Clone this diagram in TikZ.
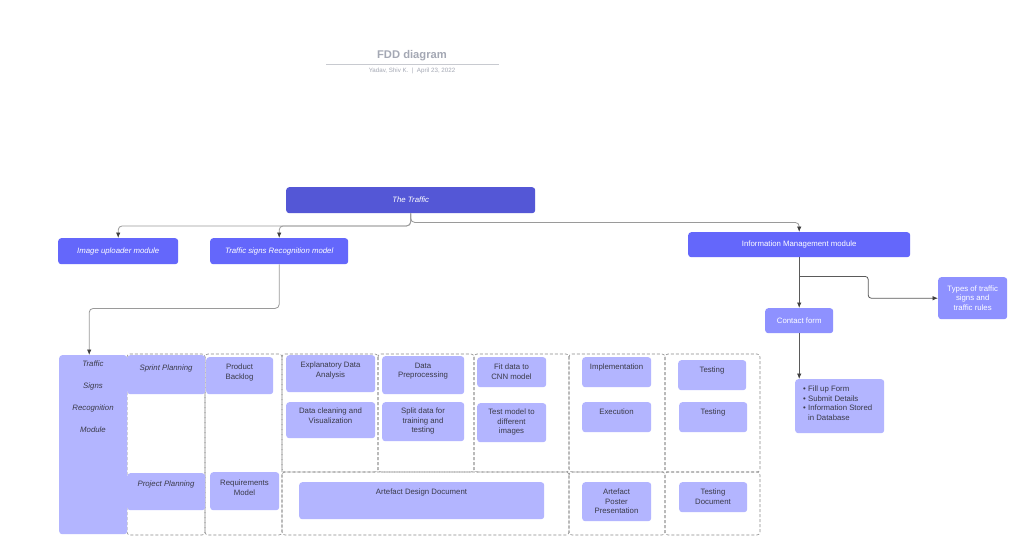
\documentclass[tikz,border=0pt]{standalone}
\usepackage{fontspec}
\setmainfont{Liberation Sans}
\usetikzlibrary{arrows.meta}
\definecolor{cdark}{HTML}{5457D6}
\definecolor{cmid}{HTML}{6467FB}
\definecolor{clight}{HTML}{8E91FF}
\definecolor{cpale}{HTML}{B3B5FF}
\definecolor{ctxt}{HTML}{3A3A48}
\definecolor{ctitle}{HTML}{A4A8B4}
\definecolor{ctline}{HTML}{C8CAD0}
\definecolor{cline}{HTML}{9A9A9A}
\definecolor{cline2}{HTML}{5A5A5A}
\definecolor{cdash}{HTML}{8A8A8A}
\tikzset{
  mainbox/.style={rounded corners=3pt, draw=none, text=white, font=\fontsize{7.8}{9.5}\selectfont, align=center, inner sep=0pt},
  gridbox/.style={rounded corners=3pt, draw=none, fill=cpale, inner sep=0pt},
  gtxt/.style={text=ctxt, font=\fontsize{7.8}{9.5}\selectfont, align=center, inner sep=0pt},
  conn/.style={draw=cline, line width=0.8pt, rounded corners=4pt, -{Latex[length=5.5pt,width=4.5pt,color=black!75]}},
  conntwo/.style={draw=cline2, line width=0.8pt, rounded corners=3pt, -{Latex[length=5.5pt,width=4.5pt,color=black!75]}},
  gridline/.style={draw=cdash, line width=0.6pt, dash pattern=on 3pt off 2pt, rounded corners=3pt},
}
\newcommand\mainbx[7]{\node[mainbox,fill=#6,minimum width={#4-#2},minimum height={#5-#3},anchor=north west] (#1) at (#2,#3) {#7};}
\newcommand\gbx[8]{%
  \node[gridbox,minimum width={#4-#2},minimum height={#5-#3},anchor=north west] (#1) at (#2,#3) {};
  \node[gtxt,#8,anchor=north] (#1t) at ({(#2+#4)/2},{#6-3.3}) {#7};}
\begin{document}
\begin{tikzpicture}[x=1pt,y=-1pt]
\useasboundingbox (0,0) rectangle (1024,552);
\fill[white] (0,0) rectangle (1024,552);

% title
\node[text=ctitle, font=\bfseries\fontsize{11.2}{12}\selectfont, inner sep=0pt] (title) at (412,56) {FDD diagram};
\draw[ctline, line width=1pt] (326,64) -- (499,64);
\node[text=ctitle, font=\fontsize{6.2}{7}\selectfont, inner sep=0pt] (subtitle) at (412,71) {Yadav, Shiv K.~~|~~April 23, 2022};

% dashed grid
\draw[gridline] (127,354) rectangle (205,535);
\draw[gridline] (205,354) rectangle (282,535);
\draw[gridline] (282,354) rectangle (378,472);
\draw[gridline] (378,354) rectangle (474,472);
\draw[gridline] (474,354) rectangle (569,472);
\draw[gridline] (569,354) rectangle (665,472);
\draw[gridline] (665,354) rectangle (760,472);
\draw[gridline] (282,472) rectangle (569,535);
\draw[gridline] (569,472) rectangle (665,535);
\draw[gridline] (665,472) rectangle (760,535);

% main boxes
\mainbx{tt}{286}{187}{535}{213}{cdark}{\itshape The Traffic}
\mainbx{img}{58}{238}{178}{264}{cmid}{\itshape Image uploader module}
\mainbx{tsr}{210}{238}{348}{264}{cmid}{\itshape Traffic signs Recognition model}
\mainbx{imm}{688}{232}{910}{257}{cmid}{Information Management module}
\mainbx{cf}{765}{308}{833}{333}{clight}{Contact form}
\mainbx{ty}{938}{277}{1007}{319}{clight}{Types of traffic\\signs and\\traffic rules}
\node[gridbox,minimum width=89,minimum height=54,anchor=north west] (bl) at (795,379) {};
\node[gtxt,align=left,anchor=north west] (blt) at (803,385.7) {\textbullet~Fill up Form\\\textbullet~Submit Details\\\textbullet~Information Stored\\\phantom{\textbullet~}in Database};

% module column
\node[gridbox,minimum width=68,minimum height=179,anchor=north west] (mod) at (59,355) {};
\node[gtxt,font=\itshape\fontsize{7.8}{22}\selectfont,anchor=north] (modt) at (93,360.7) {Traffic\\Signs\\Recognition\\Module};

% grid boxes
\gbx{sp}{127}{355}{205}{394}{368}{Sprint Planning}{font=\itshape\fontsize{7.8}{9.5}\selectfont}
\gbx{pb}{206}{357}{273}{394}{367}{Product\\Backlog}{}
\gbx{pp}{127}{473}{205}{510}{484}{Project Planning}{font=\itshape\fontsize{7.8}{9.5}\selectfont}
\gbx{rm}{210}{472}{279}{510}{483}{Requirements\\Model}{}
\gbx{eda}{286}{355}{375}{392}{365}{Explanatory Data\\Analysis}{}
\gbx{dcv}{286}{402}{375}{438}{411}{Data cleaning and\\Visualization}{}
\gbx{dp}{382}{356}{464}{394}{366}{Data\\Preprocessing}{}
\gbx{sd}{382}{402}{464}{441}{411}{Split data for\\training and\\testing}{}
\gbx{fd}{477}{357}{546}{387}{367}{Fit data to\\CNN model}{}
\gbx{tm}{477}{403}{546}{442}{412}{Test model to\\different\\images}{}
\gbx{add}{299}{482}{544}{519}{492}{Artefact Design Document}{}
\gbx{imp}{582}{357}{651}{387}{367}{Implementation}{}
\gbx{ex}{582}{402}{651}{432}{412}{Execution}{}
\gbx{tsa}{678}{360}{746}{390}{370}{Testing}{}
\gbx{tsb}{679}{402}{747}{432}{412}{Testing}{}
\gbx{app}{582}{482}{651}{521}{492}{Artefact\\Poster\\Presentation}{}
\gbx{td}{679}{482}{747}{512}{492}{Testing\\Document}{}

% connectors
\draw[conn] (tt.south) -- ++(0,12.5) -| (img.north);
\draw[conn] (tt.south) -- ++(0,12.5) -| (tsr.north);
\draw[conn] (tt.south) -- ++(0,9) -| (imm.north);
\draw[conn] (tsr.south) -- ++(0,44) -| ([xshift=-4pt]mod.north);
\draw[conntwo] (imm.south) -- (cf.north);
\path (imm.south) ++(0,19) coordinate (br);
\draw[conntwo] (br) -- ++(69,0) |- (ty.west);
\draw[conntwo] (cf.south) -- (cf.south |- bl.north);
\end{tikzpicture}
\end{document}
